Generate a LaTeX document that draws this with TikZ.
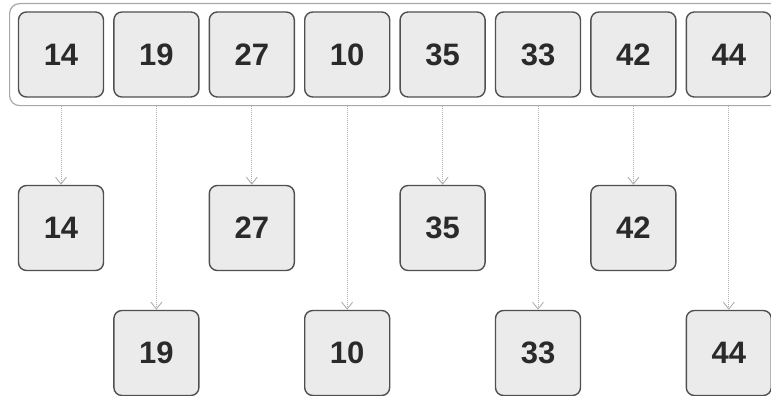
\documentclass[tikz,border=0pt]{standalone}
\usepackage{fontspec}
\setmainfont{Liberation Sans}
\usetikzlibrary{arrows.meta}
\definecolor{boxfill}{HTML}{EBEBEB}
\definecolor{boxline}{HTML}{505050}
\definecolor{outline}{HTML}{A8A8A8}
\definecolor{arrowc}{HTML}{B0B0B0}
\definecolor{txt}{HTML}{2A2A2A}
\tikzset{
  numbox/.style={draw=boxline, line width=1.4pt, fill=boxfill, rounded corners=8pt,
    minimum width=85pt, minimum height=85pt, inner sep=0pt,
    font=\fontsize{31}{34}\selectfont\bfseries, text=txt},
  container/.style={draw=outline, line width=1.2pt, fill=white, rounded corners=10pt},
  flow/.style={draw=arrowc, line width=1pt, densely dotted, -{Straight Barb[length=7pt,width=11pt,line width=0.9pt]}}
}
\begin{document}
\begin{tikzpicture}[x=1pt,y=-1pt]
\useasboundingbox (0,0) rectangle (771,396);
\clip (0,0) rectangle (771,396);
\node[container, minimum width=800pt, minimum height=102pt, anchor=north west, inner sep=0pt] (outer) at (9,3) {};
\foreach \v [count=\i] in {14,19,27,10,35,33,42,44} {
  \node[numbox] (t\i) at ({61+95.4*(\i-1)},54.5) {\v};
}
\foreach \v [count=\i] in {14,27,35,42} {
  \pgfmathsetmacro{\xx}{61+95.4*(2*\i-2)}
  \node[numbox] (m\v) at (\xx,228) {\v};
}
\foreach \v [count=\i] in {19,10,33,44} {
  \pgfmathsetmacro{\xx}{61+95.4*(2*\i-1)}
  \node[numbox] (b\v) at (\xx,353) {\v};
}
\draw[flow] (t1.south |- outer.south) -- (m14.north);
\draw[flow] (t3.south |- outer.south) -- (m27.north);
\draw[flow] (t5.south |- outer.south) -- (m35.north);
\draw[flow] (t7.south |- outer.south) -- (m42.north);
\draw[flow] (t2.south |- outer.south) -- (b19.north);
\draw[flow] (t4.south |- outer.south) -- (b10.north);
\draw[flow] (t6.south |- outer.south) -- (b33.north);
\draw[flow] (t8.south |- outer.south) -- (b44.north);
\end{tikzpicture}
\end{document}
